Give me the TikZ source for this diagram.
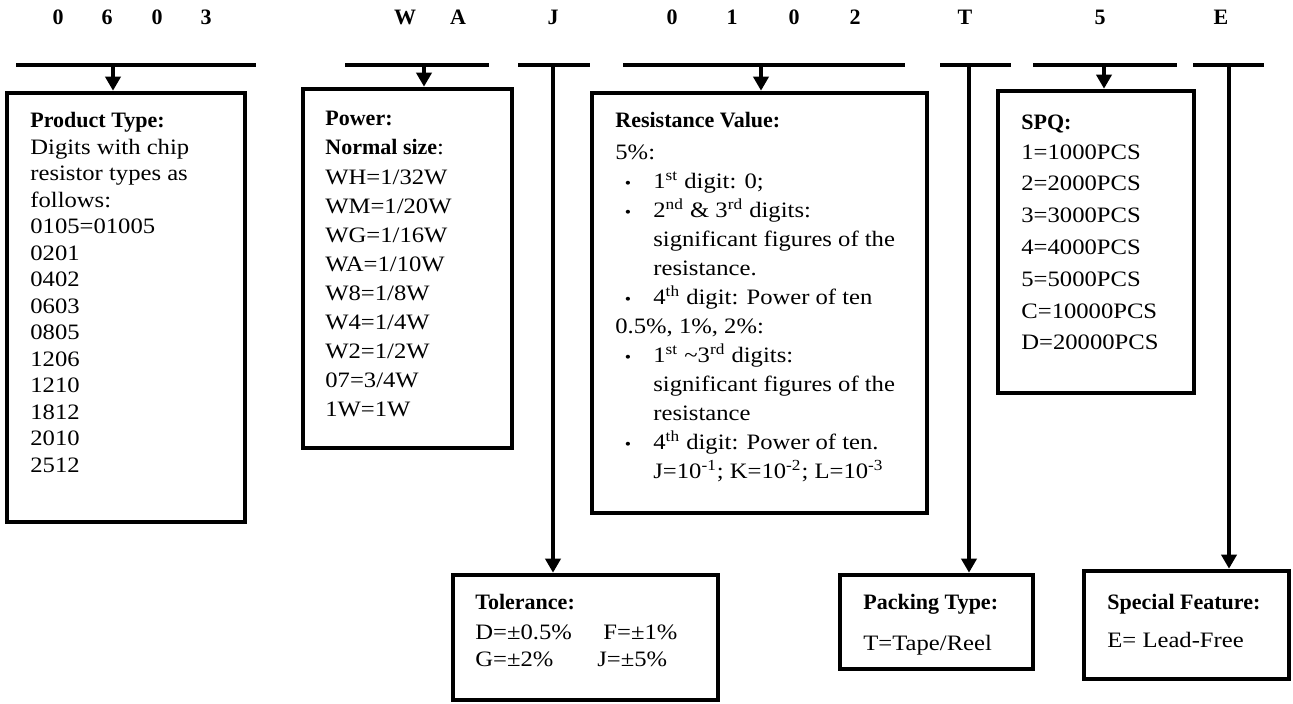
\documentclass[tikz,border=0pt]{standalone}
\usepackage{fontspec}
\setmainfont{Liberation Serif}[UprightFeatures={FakeStretch=1.12}]
\usetikzlibrary{arrows.meta,fit}
\begin{document}
\begin{tikzpicture}[x=0.5pt,y=-0.5pt,
  box/.style={draw, line width=2.3pt, inner sep=0pt},
  bar/.style={line width=2pt},
  arr/.style={line width=2pt, -{Triangle[length=7pt,width=7.5pt]}},
  txt/.style={anchor=base west, inner sep=0pt, font=\fontsize{11}{13}\selectfont},
  ttl/.style={anchor=base west, inner sep=0pt, font=\fontsize{11}{13}\selectfont\bfseries},
  dig/.style={inner sep=0pt, font=\fontsize{11}{13}\selectfont\bfseries},
  bul/.style={anchor=base, inner sep=0pt, font=\fontsize{8}{9}\selectfont}]
\useasboundingbox (0,0) rectangle (1293,703);

% code letters
\node[dig] (c1) at (58,17) {0};
\node[dig] (c2) at (107,17) {6};
\node[dig] (c3) at (157,17) {0};
\node[dig] (c4) at (206,17) {3};
\node[dig] (c5) at (405,17) {W};
\node[dig] (c6) at (458,17) {A};
\node[dig] (c7) at (553,17) {J};
\node[dig] (c8) at (672,17) {0};
\node[dig] (c9) at (732,17) {1};
\node[dig] (c10) at (794,17) {0};
\node[dig] (c11) at (855,17) {2};
\node[dig] (c12) at (965,17) {T};
\node[dig] (c13) at (1100,17) {5};
\node[dig] (c14) at (1221,17) {E};

% boxes
\coordinate (prodA) at (7,93);     \coordinate (prodB) at (245,522);
\coordinate (powA) at (303,89);    \coordinate (powB) at (512,448);
\coordinate (resA) at (592,93);    \coordinate (resB) at (927,513);
\coordinate (spqA) at (998,91);    \coordinate (spqB) at (1194,393);
\coordinate (tolA) at (453,575);   \coordinate (tolB) at (718,700);
\coordinate (packA) at (840,575);  \coordinate (packB) at (1033,669);
\coordinate (specA) at (1084,571); \coordinate (specB) at (1289,679);
\node[box, fit=(prodA) (prodB)] (prod) {};
\node[box, fit=(powA) (powB)] (power) {};
\node[box, fit=(resA) (resB)] (res) {};
\node[box, fit=(spqA) (spqB)] (spq) {};
\node[box, fit=(tolA) (tolB)] (tol) {};
\node[box, fit=(packA) (packB)] (pack) {};
\node[box, fit=(specA) (specB)] (spec) {};

% bars
\coordinate (b1L) at (16,65);   \coordinate (b1R) at (256,65);  \coordinate (b1A) at (113,65);
\coordinate (b2L) at (345,65);  \coordinate (b2R) at (489,65);  \coordinate (b2A) at (424,65);
\coordinate (bJL) at (518,65);  \coordinate (bJR) at (590,65);  \coordinate (bJA) at (553,65);
\coordinate (b3L) at (623,65);  \coordinate (b3R) at (905,65);  \coordinate (b3A) at (761,65);
\coordinate (bTL) at (940,65);  \coordinate (bTR) at (1011,65); \coordinate (bTA) at (969,65);
\coordinate (b5L) at (1033,65); \coordinate (b5R) at (1177,65); \coordinate (b5A) at (1104,65);
\coordinate (bEL) at (1193,65); \coordinate (bER) at (1264,65); \coordinate (bEA) at (1229,65);
\foreach \n in {1,2,J,3,T,5,E} \draw[bar] (b\n L) -- (b\n R);
\draw[arr] (b1A) -- (b1A |- prod.north);
\draw[arr] (b2A) -- (b2A |- power.north);
\draw[arr] (bJA) -- (bJA |- tol.north);
\draw[arr] (b3A) -- (b3A |- res.north);
\draw[arr] (bTA) -- (bTA |- pack.north);
\draw[arr] (b5A) -- (b5A |- spq.north);
\draw[arr] (bEA) -- (bEA |- spec.north);

% product type
\node[ttl] (pt) at (30,127) {Product Type:};
\foreach \t [count=\k from 0] in {Digits with chip, resistor types as, follows:, 0105=01005, 0201, 0402, 0603, 0805, 1206, 1210, 1812, 2010, 2512}
  \node[txt] (p\k) at (30,{154+26.54*\k}) {\t};

% power
\node[ttl] (pw) at (325,125) {Power:};
\node[txt] (pn) at (325,154) {\textbf{Normal size}:};
\foreach \t [count=\k from 0] in {WH=1/32W, WM=1/20W, WG=1/16W, WA=1/10W, W8=1/8W, W4=1/4W, W2=1/2W, 07=3/4W, 1W=1W}
  \node[txt] (w\k) at (325,{184+29*\k}) {\t};

% resistance value
\node[ttl] (rt) at (615,127) {Resistance Value:};
\node[txt] (r0) at (615,159) {5\%:};
\node[bul] (rb1) at (628,188) {\textbullet};
\node[txt] (r1) at (653,188) {1\textsuperscript{st} digit: 0;};
\node[bul] (rb2) at (628,217) {\textbullet};
\node[txt] (r2) at (653,217) {2\textsuperscript{nd} \& 3\textsuperscript{rd} digits:};
\node[txt] (r3) at (653,246) {significant figures of the};
\node[txt] (r4) at (653,275) {resistance.};
\node[bul] (rb5) at (628,304) {\textbullet};
\node[txt] (r5) at (653,304) {4\textsuperscript{th} digit: Power of ten};
\node[txt] (r6) at (615,333) {0.5\%, 1\%, 2\%:};
\node[bul] (rb7) at (628,362) {\textbullet};
\node[txt] (r7) at (653,362) {1\textsuperscript{st} \textasciitilde3\textsuperscript{rd} digits:};
\node[txt] (r8) at (653,391) {significant figures of the};
\node[txt] (r9) at (653,420) {resistance};
\node[bul] (rb10) at (628,449) {\textbullet};
\node[txt] (r10) at (653,449) {4\textsuperscript{th} digit: Power of ten.};
\node[txt] (r11) at (653,478) {J=10\textsuperscript{-1}; K=10\textsuperscript{-2}; L=10\textsuperscript{-3}};

% SPQ
\node[ttl] (st) at (1021,129) {SPQ:};
\foreach \t [count=\k from 0] in {1=1000PCS, 2=2000PCS, 3=3000PCS, 4=4000PCS, 5=5000PCS, C=10000PCS, D=20000PCS}
  \node[txt] (s\k) at (1021,{159+31.8*\k}) {\t};

% tolerance
\node[ttl] (tt) at (475,609) {Tolerance:};
\node[txt] (t1) at (475,639) {D=±0.5\%};
\node[txt] (t2) at (603,639) {F=±1\%};
\node[txt] (t3) at (475,666) {G=±2\%};
\node[txt] (t4) at (597,666) {J=±5\%};

% packing type
\node[ttl] (kt) at (863,609) {Packing Type:};
\node[txt] (k1) at (863,650) {T=Tape/Reel};

% special feature
\node[ttl] (ft) at (1107,609) {Special Feature:};
\node[txt] (f1) at (1107,647) {E= Lead-Free};
\end{tikzpicture}
\end{document}
